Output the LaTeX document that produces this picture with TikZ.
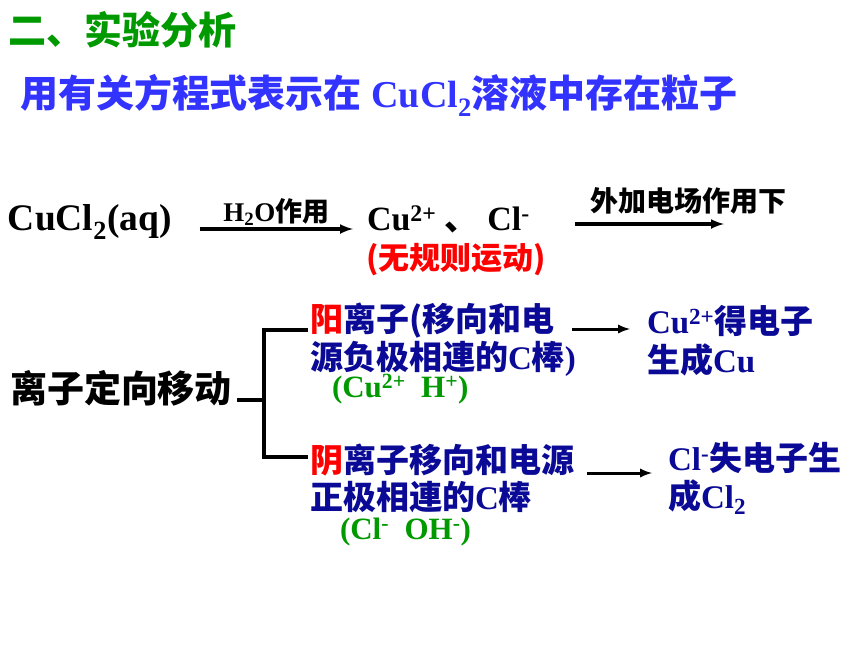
\documentclass[tikz,border=0pt]{standalone}
\usepackage{fontspec}
\setmainfont{Liberation Serif}
\newfontfamily\hei{Noto Sans CJK SC}
\newcommand\zh[1]{{\hei #1}}
\usetikzlibrary{arrows,positioning}
\tikzset{>=latex}
\definecolor{titlegreen}{RGB}{0,153,0}
\definecolor{subblue}{RGB}{51,51,255}
\definecolor{navy}{RGB}{10,10,150}

\begin{document}
\begin{tikzpicture}[x=1pt,y=-1pt,
   every node/.style={inner sep=0pt,outer sep=0pt,anchor=west},
   sz/.style={font=\bfseries\fontsize{#1}{#1}\selectfont},
   flow/.style={->,line width=3.4pt},
   thinflow/.style={->,line width=3pt},
   bracket/.style={line width=3.4pt},
]
\useasboundingbox (0,0) rectangle (860,645);
\fill[white] (0,0) rectangle (860,645);

\node[sz=38,color=titlegreen] (title) at (9,30) {\zh{二、实验分析}};
\node[sz=38,color=subblue] (subtitle) at (20,95) {\zh{用有关方程式表示在} CuCl\textsubscript{2}\zh{溶液中存在粒子}};

% first row
\node[sz=37.5] (salt) at (8,222) {CuCl\textsubscript{2}(aq)};
\node[sz=34] (ions) at (367,219) {Cu\textsuperscript{2+}\ \zh{、}\ Cl\textsuperscript{-}};
\node[sz=31,color=red] (random) at (366,260) {\zh{(无规则运动)}};
\node[sz=28] (field) at (590,201) {\zh{外加电场作用下}};
\coordinate (fieldend) at (724,224);
\draw[flow] ([xshift=28pt,yshift=-7pt]salt.east) -- node[sz=27,anchor=south,above=4pt] (water) {H\textsubscript{2}O\zh{作用}} ([xshift=-14pt,yshift=-10pt]ions.west);
\draw[flow] (ions.east) ++(45pt,-5pt) -- (fieldend);

% directed motion
\node[sz=37] (moving) at (10,388) {\zh{离子定向移动}};
\coordinate (fork) at (264,400);
\coordinate (forktop) at (308,330);
\coordinate (forkbot) at (308,457);
\draw[bracket] ([xshift=5pt,yshift=-12pt]moving.east) -- (fork);
\draw[bracket] (forktop) -| (fork) |- (forkbot);

\node[sz=33,color=navy] (catA) at (310,321) {\zh{\textcolor{red}{阳}离子(移向和电}};
\node[sz=33,color=navy] (catB) at (310,359) {\zh{源负极相連的}C\zh{棒})};
\node[sz=31,color=titlegreen] (cations) at (332,389) {(Cu\textsuperscript{2+}\ \ H\textsuperscript{+})};
\node[sz=33,color=navy] (anA) at (310,460) {\zh{\textcolor{red}{阴}离子移向和电源}};
\node[sz=33,color=navy] (anB) at (310,497) {\zh{正极相連的}C\zh{棒}};
\node[sz=31,color=titlegreen] (anions) at (340,532) {(Cl\textsuperscript{-}\ \ OH\textsuperscript{-})};

\node[sz=33,color=navy] (prodA) at (647,321) {Cu\textsuperscript{2+}\zh{得电子}};
\node[sz=33,color=navy] (prodB) at (647,360) {\zh{生成}Cu};
\node[sz=33,color=navy] (prodC) at (668,458) {Cl\textsuperscript{-}\zh{失电子生}};
\node[sz=33,color=navy] (prodD) at (668,497) {\zh{成}Cl\textsubscript{2}};

\draw[thinflow] ([xshift=18pt,yshift=-8pt]catA.east) -- ([xshift=-17pt,yshift=-8pt]prodA.west);
\draw[thinflow] ([xshift=13pt,yshift=-13pt]anA.east) -- ([xshift=-16pt,yshift=-15pt]prodC.west);
\end{tikzpicture}
\end{document}
